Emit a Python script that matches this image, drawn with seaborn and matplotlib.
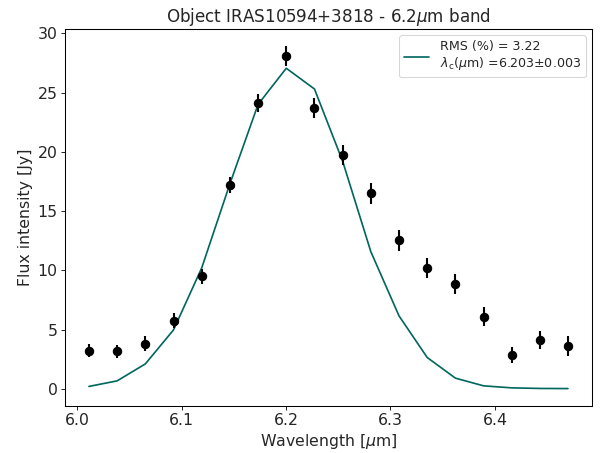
import numpy as np
import pandas as pd
import matplotlib
matplotlib.use('Agg')
import matplotlib.pyplot as plt
import seaborn as sns

# Data
wavelength = [6.0112, 6.0382, 6.0652, 6.0922, 6.1192, 6.1462, 6.1732, 6.2002, 6.2272,
              6.2542, 6.2812, 6.3082, 6.3352, 6.3622, 6.3892, 6.4162, 6.4432, 6.4700]
flux = [3.2, 3.15, 3.8, 5.75, 9.5, 17.2, 24.1, 28.1, 23.7,
        19.7, 16.5, 12.53, 10.2, 8.85, 6.08, 2.85, 4.13, 3.65]
flux_err = [0.55, 0.55, 0.63, 0.63, 0.63, 0.7, 0.74, 0.84, 0.84,
            0.84, 0.87, 0.87, 0.84, 0.84, 0.8, 0.67, 0.77, 0.84]
fit = [0.2, 0.67, 2.1, 4.97, 10.2, 17.3, 24.0, 27.05, 25.3,
       19.2, 11.57, 6.15, 2.64, 0.9, 0.25, 0.08, 0.03, 0.02]

df = pd.DataFrame({'wavelength': wavelength, 'flux': flux, 'err': flux_err, 'fit': fit})

sns.set_style("ticks")
plt.rcParams['font.family'] = ['DejaVu Sans']
plt.rcParams['mathtext.fontset'] = 'dejavusans'

fig, ax = plt.subplots(figsize=(8, 6), dpi=75.5)
fig.subplots_adjust(left=0.1076, right=0.980, bottom=0.1044, top=0.9366)

ax.errorbar(df['wavelength'], df['flux'], yerr=df['err'], fmt='o', color='black',
            markersize=8, elinewidth=2, capsize=0, zorder=3)
sns.lineplot(data=df, x='wavelength', y='fit', color='#01665e', linewidth=1.6, ax=ax,
             label='RMS (%) = 3.22\n$\\lambda_{\\rm c}$($\\mu$m) =6.203$\\pm$0.003')

ax.set_xticks([6.0, 6.1, 6.2, 6.3, 6.4])
ax.set_yticks([0, 5, 10, 15, 20, 25, 30])
ax.tick_params(labelsize=15, direction='out', length=3.5, color='black')
for s in ax.spines.values():
    s.set_color('black')
    s.set_linewidth(1.0)

ax.set_xlabel('Wavelength [$\\mu$m]', fontsize=15)
ax.set_ylabel('Flux intensity [Jy]', fontsize=15)
ax.set_title('Object IRAS10594+3818 - 6.2$\\mu$m band', fontsize=16)
ax.legend(loc='upper right', fontsize=12, frameon=True, handlelength=2)

fig.savefig('out.png', dpi=75.5)
